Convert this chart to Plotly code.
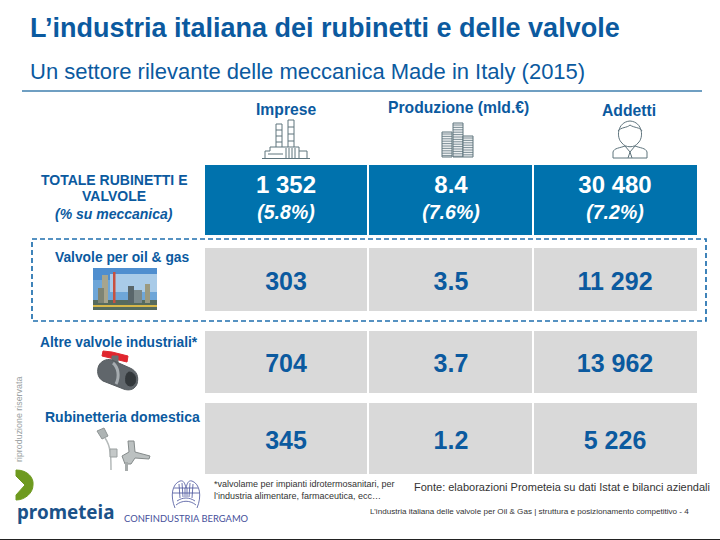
import plotly.graph_objects as go

# ---------- data ----------
columns = ["Imprese", "Produzione (mld.€)", "Addetti"]
row_labels = ["Valvole per oil & gas", "Altre valvole industriali*", "Rubinetteria domestica"]
total_values = ["1 352", "8.4", "30 480"]
total_shares = ["(5.8%)", "(7.6%)", "(7.2%)"]
oil_gas = ["303", "3.5", "11 292"]
altre = ["704", "3.7", "13 962"]
rubinetteria = ["345", "1.2", "5 226"]

# ---------- layout geometry (pixel-mapped axes) ----------
NAVY = "#0b5a9f"
BLUE = "#0072ad"
GREY = "#d9d9d9"
ICON = "#5f747d"
F = "Liberation Sans"
col_left = [205, 369, 534]
col_right = [367, 532, 697]
col_mid = [286, 451, 615]
rows = [(165, 235, BLUE), (248, 311, GREY), (331, 393, GREY), (403, 474, GREY)]

fig = go.Figure()
shapes = []
ann = []


def rect(x0, y0, x1, y1, fill, line=None, w=1, dash=None):
    shapes.append(dict(type="rect", xref="x", yref="y", x0=x0, y0=y0, x1=x1, y1=y1, layer="below",
                       fillcolor=fill, line=dict(color=line or fill, width=w if line else 0, dash=dash)))


def path(d, fill="rgba(0,0,0,0)", line=ICON, w=1):
    shapes.append(dict(type="path", xref="x", yref="y", path=d, fillcolor=fill, layer="below",
                       line=dict(color=line, width=w)))


def text(x, y, s, size, color=NAVY, anchor="center", bold=False, italic=False, font=F, angle=0):
    if bold:
        s = f"<b>{s}</b>"
    if italic:
        s = f"<i>{s}</i>"
    ann.append(dict(x=x, y=y, xref="x", yref="y", text=s, showarrow=False, xanchor=anchor, yanchor="middle",
                    textangle=angle, align="center", borderpad=0,
                    font=dict(family=font, size=size, color=color)))


# cells
for (y0, y1, fill) in rows:
    for x0, x1 in zip(col_left, col_right):
        rect(x0, y0, x1, y1, fill)

# rule, dashed frame, bottom edge
path("M 22 91 L 702 91", line="#3f7fae", w=1.6)
rect(32, 239, 706, 321, "rgba(0,0,0,0)", line="#1f6fae", w=1.7, dash="5px,3px")
path("M 0 539.5 L 720 539.5", line="#222222", w=1)

# factory icon
path("M 262 158.5 L 310 158.5 M 265 158 L 265 151 L 270 151 L 270 147 L 299 147 L 299 158 M 299 151 L 307 151 L 307 158")
path("M 276 147 L 276 124 L 282 124 L 282 147 M 276 130 L 282 130 M 276 136 L 282 136 M 276 142 L 282 142")
path("M 288 147 L 288 120 L 294 120 L 294 147 M 288 127 L 294 127 M 288 134 L 294 134 M 288 141 L 294 141")
path("M 286 148 L 286 158 M 289 148 L 289 158 M 292 148 L 292 158 M 295 148 L 295 158 M 268 154 L 283 154")

# coins icon
for cx, top, bot in [(447, 132, 157), (458, 123, 157), (468, 136, 157)]:
    rect(cx - 5, top, cx + 5, bot, "#eef1f2", line=ICON, w=1)
    y = top + 2
    while y < bot:
        path(f"M {cx-5} {y} L {cx+5} {y}", w=0.8)
        y += 2.4

# person icon
path("M 622 143 C 616 138 617 122 630 121 C 643 122 644 138 638 143 C 635 148 625 148 622 143 Z")
path("M 618 131 C 621 127 627 128 630 125 C 634 128 640 127 642 131")
path("M 613 158 L 613 152 C 614 148 620 148 625 146 L 630 152 L 635 146 C 640 148 646 148 647 152 L 647 158 Z")
path("M 630 152 L 628 158 M 630 152 L 632 158")

# oil & gas picture
rect(93, 268, 157, 310, "#6ea6d8")
rect(93, 268, 157, 280, "#4f8ecf")
rect(110, 274, 157, 292, "#a9cbe8")
rect(93, 300, 157, 310, "#566b5e")
rect(102, 275, 108, 303, "#a7a58e")
rect(98, 288, 104, 303, "#7e8474")
rect(113, 272, 115.5, 303, "#c8503f")
rect(128, 286, 134, 303, "#59666a")
rect(134, 290, 142, 303, "#7c8a8c")
rect(145, 284, 150, 303, "#9b9a80")
rect(93, 305, 157, 307, "#d8b84a")

# valve picture
path("M 103 351 L 102 356 L 127 362 L 128 356 L 112 352 Z", fill="#e0262e", line="#e0262e")
rect(112, 356, 118, 364, "#6a6e71", line="#6a6e71")
path("M 98 368 C 99 362 106 358 112 360 L 130 368 C 137 371 139 377 137 384 C 134 391 127 391 121 388 L 103 381 C 98 378 97 373 98 368 Z",
     fill="#60666b", line="#565c60")
path("M 113 363 C 118 367 120 376 116 384", line="#a6acb0", w=3)
path("M 129 372 C 134 372 137 377 135 383 C 133 387 128 387 126 383 C 125 378 126 373 129 372 Z", fill="#33383b", line="#33383b")

# faucet picture
path("M 97 431 L 104 428 L 108 436 L 102 439 Z", fill="#aeb4b4", line="#8f9595")
path("M 105 438 C 111 446 111 458 111 470", line="#b5baba", w=1.5)
rect(110, 449, 117, 457, "#c4c8c8", line="#9aa0a0")
path("M 128 441 L 134 441 L 135 452 L 150 456 L 149 459 L 135 458 L 131 464 L 125 464 L 122 456 L 129 452 Z",
     fill="#bcc1c1", line="#858b8b")
rect(125, 462, 128, 471, "#a6abab")

# logos
path("M 16 470 C 28 470 34 478 33 485 C 33 493 25 500 16 500 L 16 495 L 25 485 L 16 476 Z", fill="#6e9a1f", line="#6e9a1f")
path("M 175 508 C 170 496 172 484 180 481 C 184 480 185 484 186 488 C 187 484 188 480 192 481 C 200 484 202 496 197 508 "
     "M 176 505 C 182 500 190 500 196 505 M 177 501 C 183 497 189 497 195 501 "
     "M 179 484 L 180 498 M 182 483 L 183 497 M 185 488 L 185 497 M 187 488 L 187 497 M 190 483 L 189 497 M 193 484 L 192 498 "
     "M 174 488 L 198 488 M 173 493 L 199 493",
     line="#46509b", w=0.8)

# header labels
text(286, 109, columns[0], 15.7, bold=True)
text(458, 107, columns[1], 15.7, bold=True)
text(629, 110, columns[2], 15.7, bold=True)

# row labels
text(114, 180, "TOTALE RUBINETTI E", 14, bold=True)
text(114, 196, "VALVOLE", 14, bold=True)
text(114, 214, "(% su meccanica)", 14, bold=True, italic=True)
text(122, 257, row_labels[0], 13.8, bold=True)
text(119, 342, row_labels[1], 13.8, bold=True)
text(122, 417, row_labels[2], 14, bold=True)

# titles
text(29, 28, "L’industria italiana dei rubinetti e delle valvole", 27, bold=True, anchor="left")
text(29, 71, "Un settore rilevante delle meccanica Made in Italy (2015)", 22, anchor="left")

# footers
text(213, 484, "*valvolame per impianti idrotermosanitari, per", 9, color="#333333", anchor="left")
text(213, 496, "l’industria alimentare, farmaceutica, ecc…", 9, color="#333333", anchor="left")
text(413, 487, "Fonte: elaborazioni Prometeia su dati Istat e bilanci aziendali", 11, color="#333333", anchor="left")
text(369, 511, "L’industria italiana delle valvole per Oil & Gas | struttura e posizionamento competitivo - 4", 8.1, color="#333333", anchor="left")
text(19, 420, "riproduzione riservata", 8.9, color="#9a9fa2", angle=-90)
text(65, 512, "prometeia", 18.8, color="#1b5289", font="Noto Sans", bold=True)
text(186, 518, "CONFINDUSTRIA BERGAMO", 9.4, color="#46509b", font="Lato")

# values through the chart's scales
fig.add_trace(go.Scatter(x=col_mid, y=[187] * 3, mode="text", text=[f"<b>{v}</b>" for v in total_values], hoverinfo="skip",
                         textfont=dict(family=F, size=24, color="white"), textposition="middle center"))
fig.add_trace(go.Scatter(x=col_mid, y=[214] * 3, mode="text", text=[f"<b><i>{s}</i></b>" for s in total_shares], hoverinfo="skip",
                         textfont=dict(family=F, size=19.5, color="white"), textposition="middle center"))
for vals, yy in [(oil_gas, 284), (altre, 366), (rubinetteria, 443)]:
    fig.add_trace(go.Scatter(x=col_mid, y=[yy] * 3, mode="text", text=[f"<b>{v}</b>" for v in vals], hoverinfo="skip",
                             textfont=dict(family=F, size=25, color=NAVY), textposition="middle center"))

fig.update_layout(
    width=720, height=540, margin=dict(l=0, r=0, t=0, b=0), autosize=False,
    paper_bgcolor="white", plot_bgcolor="white", showlegend=False,
    xaxis=dict(range=[0, 720], visible=False, fixedrange=True),
    yaxis=dict(range=[540, 0], visible=False, fixedrange=True),
    shapes=shapes, annotations=ann,
)
fig.write_html("out.html", config=dict(displayModeBar=False),
               post_script="document.body.style.margin='0';document.documentElement.style.overflow='hidden';")
